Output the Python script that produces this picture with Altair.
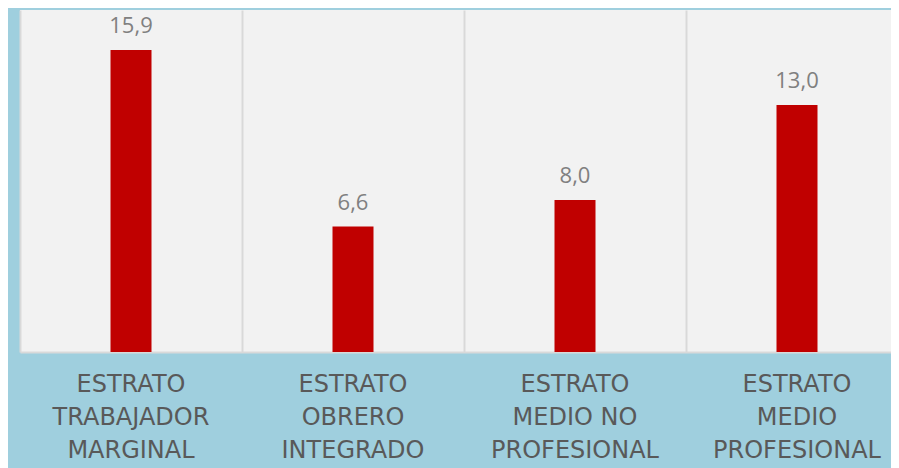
import altair as alt
import pandas as pd

categories = [
    "ESTRATO\nTRABAJADOR\nMARGINAL",
    "ESTRATO\nOBRERO\nINTEGRADO",
    "ESTRATO\nMEDIO NO\nPROFESIONAL",
    "ESTRATO\nMEDIO\nPROFESIONAL",
]
values = [15.9, 6.6, 8.0, 13.0]

df = pd.DataFrame({"cat": categories, "val": values})

x = alt.X(
    "cat:N",
    sort=categories,
    scale=alt.Scale(paddingInner=0, paddingOuter=0, range=[0, 888]),
    axis=alt.Axis(
        title=None,
        labelAngle=0,
        labelExpr="split(datum.label, '\\n')",
        labelFont="DejaVu Sans",
        labelFontSize=24,
        labelColor="#595959",
        labelLineHeight=33,
        labelPadding=20,
        labelBaseline="top",
        ticks=False,
        domainColor="#d9d9d9",
        domainWidth=2,
        grid=True,
        gridColor="#d9d9d9",
        gridWidth=2,
        bandPosition=0,
        labelBound=False,
        labelOverlap=False,
    ),
)
y = alt.Y("val:Q", scale=alt.Scale(domain=[0, 18]), axis=None)

bars = alt.Chart(df).mark_bar(color="#c00000", size=41).encode(x=x, y=y)

labels = (
    alt.Chart(df)
    .transform_calculate(lab="replace(format(datum.val, '.1f'), '.', ',')")
    .mark_text(font="Open Sans", fontSize=22, color="#808080", dy=-17, baseline="alphabetic")
    .encode(x=x, y=y, text="lab:N")
)

chart = (
    alt.layer(bars, labels)
    .properties(
        width=871,
        height=342,
        autosize=alt.AutoSizeParams(type="none"),
        padding={"left": 12, "top": 2, "right": 0, "bottom": 116},
        background="#9fcfde",
    )
    .configure_view(fill="#f2f2f2", stroke=None)
)

chart.save("out.html", embed_options={"renderer": "svg", "actions": False})
